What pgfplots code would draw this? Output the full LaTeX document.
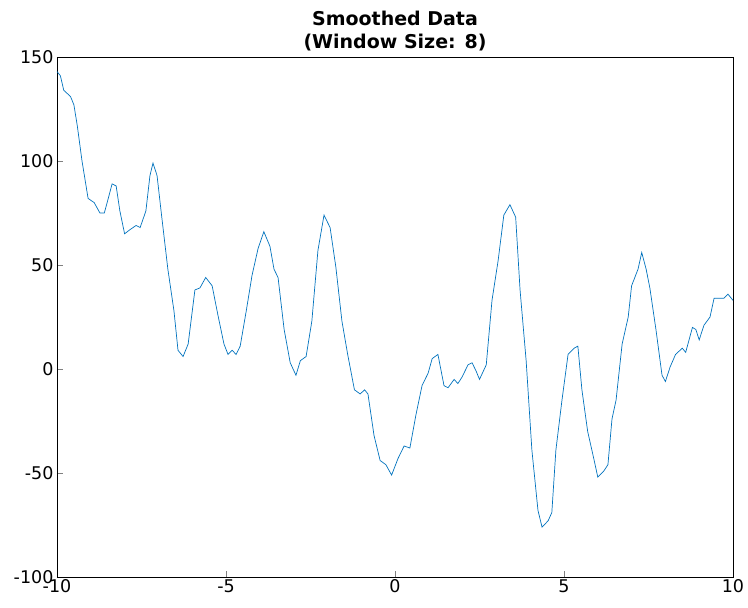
\documentclass[border=0pt]{standalone}
\usepackage{pgfplots}
\pgfplotsset{compat=1.18}
\usepackage{fontspec}
\setmainfont{DejaVu Sans}
\definecolor{mblue}{RGB}{0,114,189}
\begin{document}
\begin{tikzpicture}
\useasboundingbox (-57pt,-31pt) rectangle (691pt,577pt);
\begin{axis}[at={(0,0)},anchor=south west,scale only axis,width=676pt,height=520pt,
xmin=-10,xmax=10,ymin=-100,ymax=150,
xtick={-10,-5,0,5,10},ytick={-100,-50,0,50,100,150},
tick align=inside,xtick pos=bottom,ytick pos=left,
major tick length=6pt,
/pgf/number format/assume math mode=true,
ticklabel style={font=\fontsize{17.5}{20}\selectfont},
xticklabel style={yshift=1pt},
title style={font=\bfseries\fontsize{19}{23}\selectfont,align=center,yshift=-4pt},
title={Smoothed Data\\(Window Size: 8)}]
\addplot[mblue,line width=0.7pt] coordinates {
(-10,143)(-9.9,141)(-9.8,134)(-9.6,131)(-9.5,127)(-9.4,117)(-9.26,100)(-9.08,82)(-8.9,80)(-8.73,75)(-8.6,75)(-8.5,81)(-8.37,89)(-8.25,88)(-8.14,76)(-8.0,65)(-7.84,67)(-7.66,69)(-7.54,68)(-7.37,76)(-7.25,93)(-7.16,99)(-7.04,93)(-6.9,73)(-6.72,48)(-6.54,28)(-6.42,9)(-6.27,6)(-6.12,12)(-5.92,38)(-5.77,39)(-5.6,44)(-5.41,40)(-5.24,26)(-5.06,12)(-4.94,7)(-4.82,9)(-4.7,7)(-4.58,11)(-4.4,28)(-4.23,45)(-4.05,58)(-3.88,66)(-3.7,59)(-3.58,48)(-3.46,44)(-3.28,19)(-3.1,3)(-2.93,-3)(-2.8,4)(-2.63,6)(-2.46,23)(-2.28,57)(-2.1,74)(-1.92,68)(-1.75,49)(-1.57,23)(-1.4,7)(-1.2,-10)(-1.03,-12)(-0.9,-10)(-0.8,-12)(-0.62,-32)(-0.44,-44)(-0.27,-46)(-0.1,-51)(0.09,-43)(0.27,-37)(0.44,-38)(0.62,-22)(0.8,-8)(0.98,-2)(1.1,5)(1.27,7)(1.45,-8)(1.57,-9)(1.75,-5)(1.86,-7)(1.98,-4)(2.16,2)(2.28,3)(2.4,-1)(2.5,-5)(2.7,2)(2.87,33)(3.05,52)(3.22,74)(3.4,79)(3.57,73)(3.7,38)(3.88,4)(4.05,-39)(4.23,-68)(4.35,-76)(4.53,-73)(4.64,-69)(4.76,-39)(4.94,-15)(5.12,7)(5.3,10)(5.41,11)(5.53,-10)(5.7,-30)(5.88,-43)(6.0,-52)(6.18,-49)(6.3,-46)(6.42,-24)(6.54,-15)(6.72,12)(6.9,25)(7.0,40)(7.19,48)(7.3,56)(7.43,48)(7.54,39)(7.72,19)(7.9,-3)(8.0,-6)(8.14,1)(8.3,7)(8.5,10)(8.6,8)(8.8,20)(8.9,19)(9.0,14)(9.14,21)(9.32,25)(9.44,34)(9.6,34)(9.73,34)(9.85,36)(10,33)};
\end{axis}
\end{tikzpicture}
\end{document}
